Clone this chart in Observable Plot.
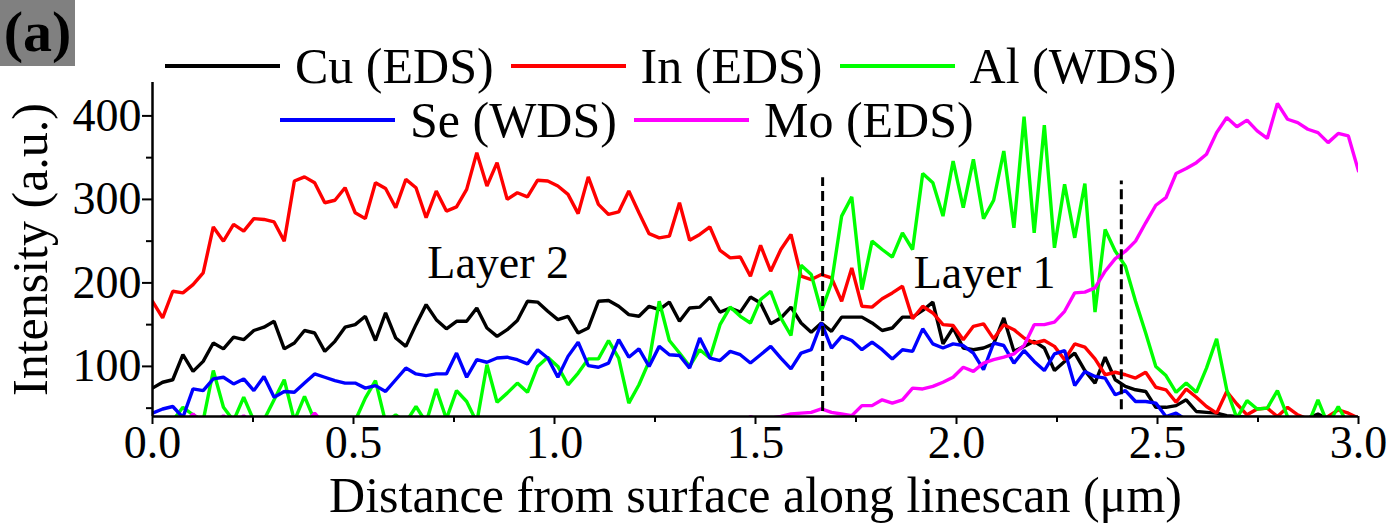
<!DOCTYPE html>
<html>
<head>
<meta charset="utf-8">
<script src="https://cdn.jsdelivr.net/npm/d3@7"></script>
<script src="https://cdn.jsdelivr.net/npm/@observablehq/plot@0.6"></script>
<style>
  body { margin: 0; background: #fff; }
  #wrap { position: relative; width: 1389px; height: 524px; font-family: "Liberation Serif", "Times New Roman", serif; color: #000; }
  #chart { position: absolute; left: 0; top: 0; }
  #tag { position: absolute; left: 0; top: 0; width: 75px; height: 66px; background: #808080; font-weight: bold; font-size: 58px; line-height: 64px; text-align: center; }
  .row { position: absolute; display: flex; align-items: center; font-size: 50px; line-height: 50px; height: 50px; white-space: nowrap; }
  .sw { display: inline-block; width: 115px; height: 4px; margin-right: 15px; }
  .lbl { margin-right: 17px; }
</style>
</head>
<body>
<div id="wrap">
  <div id="chart"></div>
  <div id="tag">(a)</div>
  <div id="leg1" class="row" style="left:165px; top:41px;"></div>
  <div id="leg2" class="row" style="left:280px; top:95px;"></div>
</div>
<script>
// ---- data ----
const seriesNames = ["Cu (EDS)", "In (EDS)", "Al (WDS)", "Se (WDS)", "Mo (EDS)"];
const seriesColors = ["#000000", "#ff0000", "#00ff00", "#0000ff", "#ff00ff"];

const linescanLength = 3.0;   // µm
const nSamples = 120;         // points per line scan

const cu = [74, 81, 84, 114, 94, 106, 128, 121, 135, 132,
  143, 147, 154, 121, 128, 143, 140, 118, 130, 147,
  150, 160, 131, 164, 134, 124, 150, 174, 156, 145,
  154, 154, 170, 146, 136, 144, 155, 178, 177, 166,
  156, 160, 140, 146, 178, 179, 172, 162, 160, 172,
  168, 177, 154, 170, 171, 183, 165, 170, 165, 183,
  176, 151, 158, 171, 152, 141, 152, 142, 159, 159,
  159, 152, 143, 146, 159, 159, 167, 177, 127, 146,
  122, 120, 122, 127, 158, 118, 124, 130, 122, 95,
  106, 116, 95, 80, 111, 84, 76, 72, 70, 51,
  51, 53, 60, 46, 45, 44, 41, 40, 39, 39,
  38, 38, 38, 38, 38, 43, 37, 37, 37, 37];

const inEds = [178, 158, 190, 188, 198, 212, 267, 250, 270, 262,
  277, 276, 273, 250, 322, 327, 320, 296, 299, 314,
  284, 277, 320, 313, 290, 324, 314, 278, 310, 286,
  291, 312, 356, 316, 344, 300, 308, 303, 323, 322,
  316, 306, 283, 327, 294, 282, 285, 310, 284, 259,
  254, 256, 296, 251, 258, 267, 239, 230, 231, 208,
  245, 214, 240, 258, 208, 204, 210, 206, 178, 218,
  172, 171, 181, 188, 196, 157, 172, 164, 150, 149,
  132, 148, 151, 133, 150, 144, 134, 128, 131, 124,
  108, 127, 123, 109, 90, 93, 90, 86, 93, 75,
  72, 57, 73, 63, 52, 44, 70, 55, 42, 49,
  50, 40, 51, 42, 37, 35, 40, 48, 44, 38];

const al = [30, 30, 35, 51, 42, 35, 95, 51, 35, 63,
  35, 36, 60, 84, 35, 64, 35, 30, 30, 30,
  35, 62, 83, 33, 42, 33, 52, 33, 73, 37,
  71, 58, 33, 102, 57, 68, 80, 69, 100, 111,
  100, 78, 92, 109, 109, 131, 110, 56, 78, 106,
  178, 131, 116, 100, 120, 110, 150, 171, 160, 152,
  180, 190, 158, 137, 221, 210, 166, 200, 280, 303,
  192, 250, 240, 231, 260, 240, 331, 320, 280, 346,
  290, 348, 277, 299, 358, 266, 399, 260, 389, 242,
  318, 254, 319, 165, 264, 238, 220, 178, 140, 100,
  89, 69, 80, 69, 98, 133, 72, 38, 59, 49,
  50, 71, 40, 30, 30, 60, 30, 52, 30, 30];

const se = [44, 49, 52, 39, 73, 71, 85, 87, 79, 85,
  71, 88, 63, 70, 69, 80, 91, 87, 83, 80,
  80, 74, 77, 70, 84, 98, 91, 89, 91, 91,
  116, 87, 108, 105, 110, 111, 108, 103, 120, 110,
  87, 112, 129, 101, 99, 104, 132, 111, 121, 100,
  124, 114, 113, 98, 134, 110, 107, 118, 114, 104,
  114, 124, 110, 97, 116, 120, 152, 122, 136, 131,
  120, 129, 120, 109, 120, 118, 145, 127, 122, 127,
  125, 116, 96, 128, 125, 104, 119, 106, 95, 115,
  119, 77, 94, 88, 86, 66, 71, 58, 58, 56,
  40, 44, 36, 30, 30, 30, 30, 30, 30, 30,
  30, 30, 30, 30, 30, 30, 30, 30, 30, 30];

const mo = [40, 30, 30, 30, 43, 30, 30, 41, 30, 41,
  30, 30, 30, 30, 30, 30, 44, 30, 30, 30,
  30, 30, 30, 30, 30, 30, 30, 30, 30, 30,
  30, 30, 30, 30, 30, 30, 30, 30, 30, 30,
  30, 30, 30, 30, 30, 30, 30, 30, 30, 30,
  30, 30, 30, 30, 30, 30, 30, 30, 30, 40,
  35, 38, 40, 43, 44, 45, 49, 45, 43, 41,
  53, 53, 60, 56, 60, 74, 73, 76, 81, 87,
  99, 94, 104, 108, 111, 115, 125, 150, 150, 153,
  166, 188, 189, 194, 214, 229, 238, 250, 272, 293,
  302, 331, 337, 344, 354, 380, 398, 387, 395, 382,
  373, 415, 396, 392, 384, 380, 368, 379, 376, 334];

const seriesValues = [cu, inEds, al, se, mo];

// layer boundaries (dashed lines)
const boundaryX = [1.667, 2.41];
const boundaryTop = [326, 322];
const boundaryBottom = [46, 48];

// layer annotations
const layerNames = ["Layer 2", "Layer 1"];
const layerX = [0.86, 2.07];
const layerY = [224, 212];

// axes
const xDomain = [0, 3];
const yDomain = [40, 440];
const xMajor = [0, 0.5, 1.0, 1.5, 2.0, 2.5, 3.0];
const xMinor = [0.25, 0.75, 1.25, 1.75, 2.25, 2.75];
const yMajor = [100, 200, 300, 400];
const yMinor = [50, 150, 250, 350];
const xTitle = "Distance from surface along linescan (μm)";
const yTitle = "Intensity (a.u.)";

// ---- build tables ----
const step = linescanLength / (nSamples - 1);
const rows = [];
seriesNames.forEach((name, s) => {
  seriesValues[s].forEach((v, i) => rows.push({series: name, dist: i * step, value: v}));
});
const bounds = boundaryX.map((x, i) => ({x, y1: boundaryBottom[i], y2: boundaryTop[i]}));
const layers = layerNames.map((name, i) => ({name, x: layerX[i], y: layerY[i]}));

const serif = "'Liberation Serif', 'Times New Roman', serif";

const chart = Plot.plot({
  width: 1389,
  height: 524,
  marginLeft: 152,
  marginRight: 31,
  marginTop: 82,
  marginBottom: 108,
  x: {domain: xDomain},
  y: {domain: yDomain},
  color: {domain: seriesNames, range: seriesColors},
  style: {fontFamily: serif, fontSize: "46px", color: "#000", background: "#fff", overflow: "visible"},
  marks: [
    Plot.line(rows, {x: "dist", y: "value", z: "series", stroke: "series", strokeWidth: 3.4, strokeLinejoin: "miter", clip: true}),
    Plot.ruleX(bounds, {x: "x", y1: "y1", y2: "y2", stroke: "#000", strokeWidth: 3, strokeDasharray: "10,5"}),
    Plot.text(layers, {x: "x", y: "y", text: "name", fontSize: 46, fill: "#000"}),
    Plot.ruleX([xDomain[0]], {stroke: "#000", strokeWidth: 2.5}),
    Plot.ruleY([yDomain[0]], {stroke: "#000", strokeWidth: 2.5}),
    Plot.axisX({ticks: xMajor, tickSize: 8, tickPadding: 1, tickFormat: d3.format(".1f"), fontSize: 46, strokeWidth: 2, label: null}),
    Plot.axisX({ticks: xMinor, tickSize: 6, tickFormat: () => "", strokeWidth: 2, label: null}),
    Plot.axisY({ticks: yMajor, tickSize: 10, tickPadding: 1, tickFormat: d3.format("d"), fontSize: 46, strokeWidth: 2, label: null}),
    Plot.axisY({ticks: yMinor, tickSize: 6, tickFormat: () => "", strokeWidth: 2, label: null}),
    Plot.text([yTitle], {text: d => d, frameAnchor: "left", textAnchor: "middle", lineAnchor: "middle", rotate: -90, dx: -122, fontSize: 50, fill: "#000"}),
    Plot.text([xTitle], {text: d => d, frameAnchor: "bottom", textAnchor: "middle", lineAnchor: "middle", dy: 79, fontSize: 50, fill: "#000"})
  ]
});
document.getElementById("chart").appendChild(chart);

// ---- legend ----
function addItem(container, i) {
  const sw = document.createElement("span");
  sw.className = "sw";
  sw.style.background = seriesColors[i];
  const lb = document.createElement("span");
  lb.className = "lbl";
  lb.textContent = seriesNames[i];
  container.appendChild(sw);
  container.appendChild(lb);
}
const leg1 = document.getElementById("leg1");
const leg2 = document.getElementById("leg2");
[0, 1, 2].forEach(i => addItem(leg1, i));
[3, 4].forEach(i => addItem(leg2, i));
</script>
</body>
</html>
